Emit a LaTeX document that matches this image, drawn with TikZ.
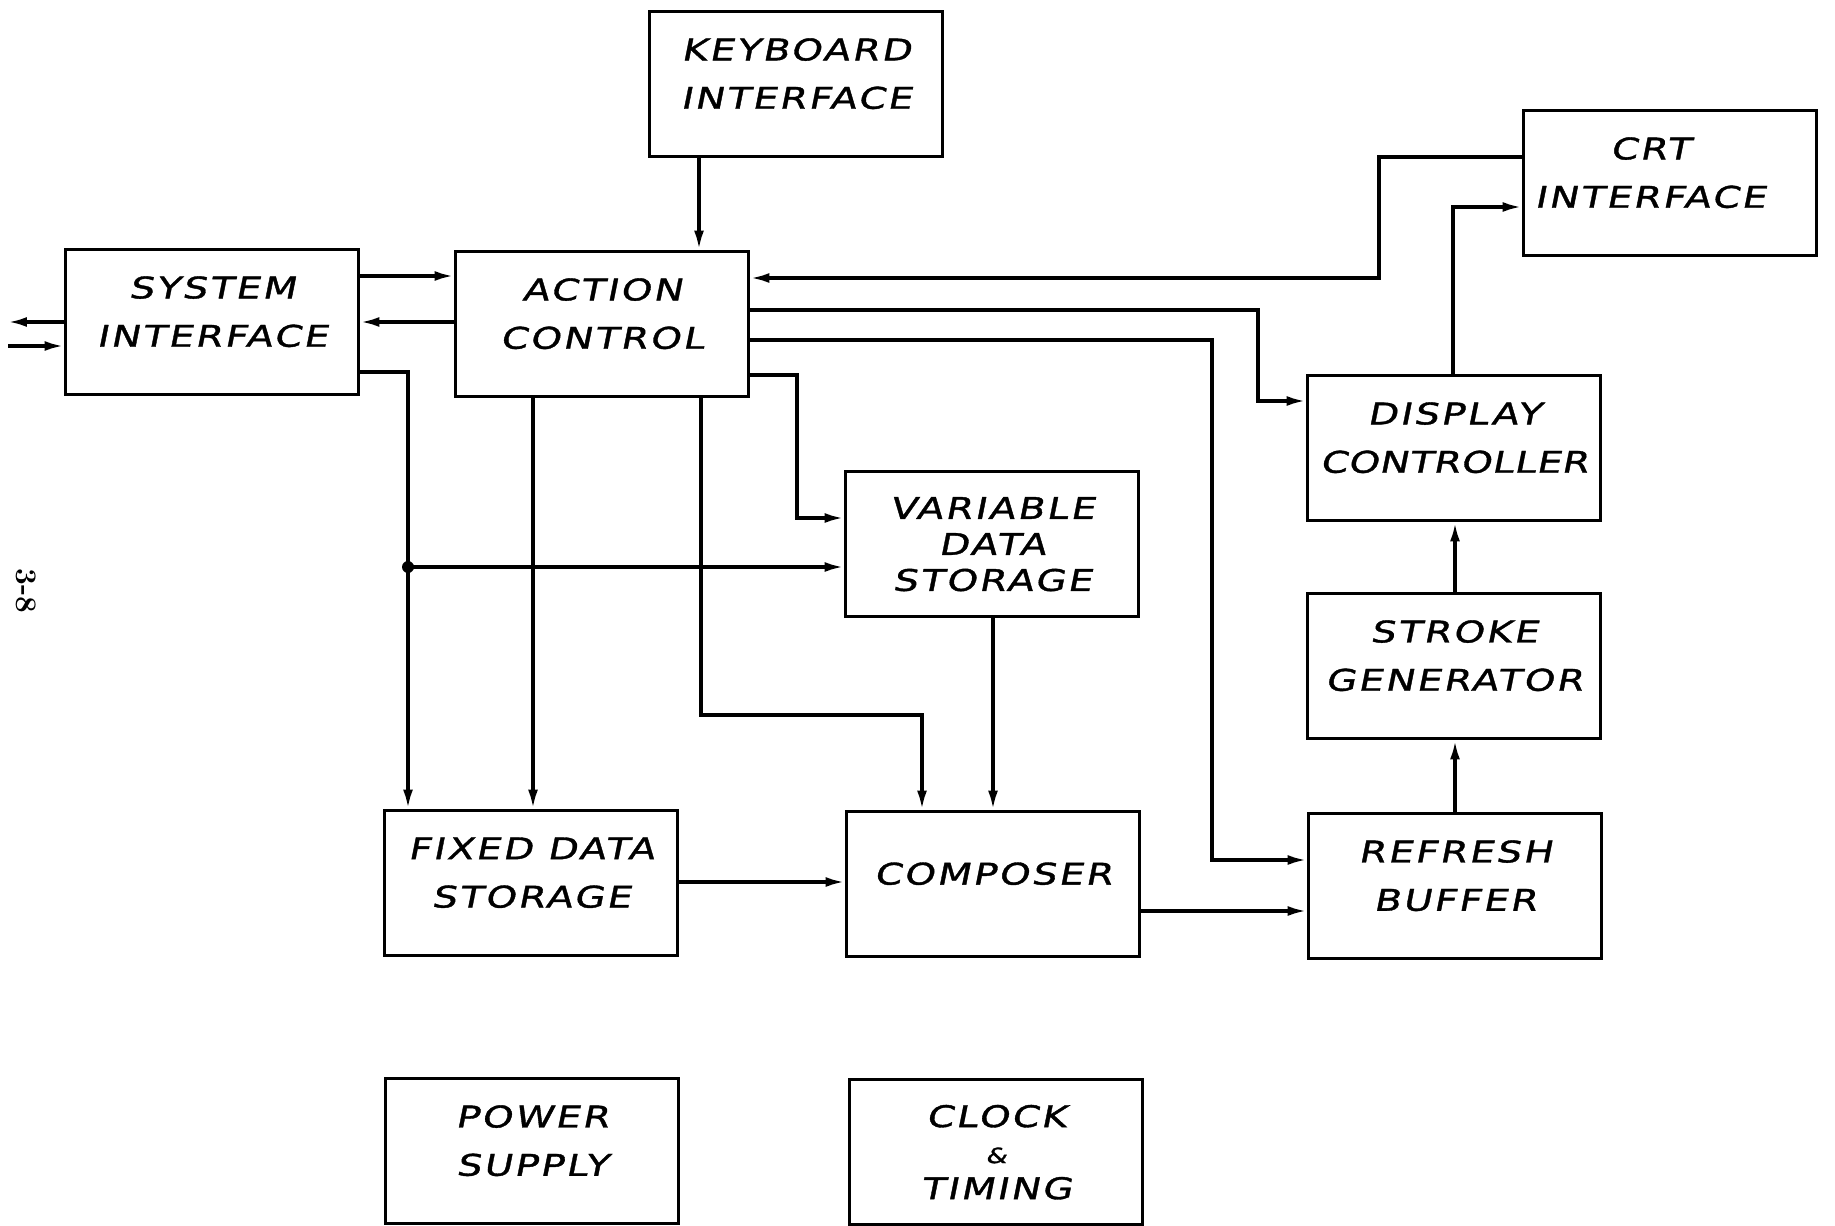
\documentclass[tikz,border=0pt]{standalone}
\usepackage{fontspec}
\usetikzlibrary{arrows.meta, positioning, calc}
\newfontfamily\handfont[FakeSlant=0.2, FakeStretch=1.3, FakeBold=1.2,
                       LetterSpace=8]{DejaVu Sans}
\tikzset{
  blk/.style  = {rectangle, draw, line width=2.2pt, minimum width=5.86cm,
                 minimum height=2.9cm, align=center, inner sep=0pt,
                 text depth=0.42cm,
                 font=\handfont\fontsize{17}{27.5}\selectfont},
  arr/.style  = {-{Latex[length=0.38cm, width=0.2cm]}, line width=1.9pt},
  dot/.style  = {fill, circle, inner sep=0pt, minimum size=0.24cm},
}

\begin{document}
\begin{tikzpicture}[x=0.02cm, y=-0.02cm]

\useasboundingbox (0,0) rectangle (1835,1226);

% ============================================================
%  Blocks
% ============================================================

\node[blk] (kbdbox)  at (796,84)     {KEYBOARD\\INTERFACE};
\node[blk] (crtbox)  at (1670,183)
  {CRT\hspace*{0.8cm}\\INTERFACE\hspace*{0.8cm}};
\node[blk] (sysbox)  at (212,322)    {SYSTEM\\INTERFACE};
\node[blk] (actbox)  at (602,324)    {ACTION\\CONTROL};
\node[blk] (dispbox) at (1454,448)
  {DISPLAY\\\addfontfeatures{LetterSpace=2}CONTROLLER};
\node[blk, text depth=0pt] (varbox) at (992,544)
  {VARIABLE\\[-7pt]DATA\\[-7pt]STORAGE};
\node[blk] (strkbox) at (1454,666)   {STROKE\\GENERATOR};
\node[blk] (fixbox)  at (531,883)    {FIXED DATA\\STORAGE};
\node[blk] (compbox) at (993,884)    {COMPOSER};
\node[blk] (refbox)  at (1455,886)   {REFRESH\\BUFFER};
\node[blk] (pwrbox)  at (532,1151)   {POWER\\SUPPLY};
\node[blk, text depth=0pt] (clkbox) at (996,1152)
  {CLOCK\\[-7pt]{\fontsize{12}{12}\selectfont\&}\\[-7pt]TIMING};

% page number
\node[rotate=-90, font=\bfseries\fontsize{17}{17}\selectfont] (pgno)
  at (26,591) {3-8};

% ============================================================
%  Routing points
% ============================================================

\coordinate (kbx)   at (699,0);
\coordinate (sain)  at (0,276);
\coordinate (asout) at (0,322);
\coordinate (extout) at (8,322);
\coordinate (extin)  at (8,346);
\coordinate (crtA)  at (1379,157);
\coordinate (crtB)  at (1379,278);
\coordinate (dcA)   at (1453,207);
\coordinate (dA)    at (1258,310);
\coordinate (dB)    at (1258,401);
\coordinate (rA)    at (1212,340);
\coordinate (rB)    at (1212,860);
\coordinate (vA)    at (797,375);
\coordinate (vB)    at (797,518);
\coordinate (bA)    at (408,372);
\coordinate (bB)    at (408,567);
\coordinate (fx)    at (533,0);
\coordinate (cA)    at (701,715);
\coordinate (cB)    at (922,715);
\coordinate (vcx)   at (993,0);
\coordinate (fcy)   at (0,882);
\coordinate (cry)   at (0,911);
\coordinate (sgx)   at (1455,0);

% ============================================================
%  Connectors
% ============================================================

% keyboard / system interface -> action control
\draw[arr] (kbdbox.south -| kbx) -- (actbox.north -| kbx);
\draw[arr] (sysbox.east |- sain) -- (actbox.west |- sain);
\draw[arr] (actbox.west |- asout) -- (sysbox.east |- asout);

% outside world
\draw[arr] (sysbox.west |- extout) -- (extout);
\draw[arr] (extin) -- (sysbox.west |- extin);

% CRT <-> action control / display controller
\draw[arr] (crtbox.west |- crtA) -- (crtA) -- (crtB) -- (actbox.east |- crtB);
\draw[arr] (dispbox.north -| dcA) |- (crtbox.west |- dcA);

% action control -> display controller, refresh buffer, variable data
\draw[arr] (actbox.east |- dA) -- (dA) |- (dispbox.west |- dB);
\draw[arr] (actbox.east |- rA) -- (rA) |- (refbox.west |- rB);
\draw[arr] (actbox.east |- vA) -- (vA) |- (varbox.west |- vB);

% system interface bus
\draw[arr] (sysbox.east |- bA) -- (bA) -- (fixbox.north -| bA);
\draw[arr] (bB) -- (varbox.west |- bB);
\node[dot] (busdot) at (bB) {};

% action control -> fixed data, composer
\draw[arr] (actbox.south -| fx) -- (fixbox.north -| fx);
\draw[arr] (actbox.south -| cA) -- (cA) -- (cB) -- (compbox.north -| cB);

% into composer
\draw[arr] (varbox.south -| vcx) -- (compbox.north -| vcx);
\draw[arr] (fixbox.east |- fcy) -- (compbox.west |- fcy);

% composer -> refresh -> stroke -> display
\draw[arr] (compbox.east |- cry) -- (refbox.west |- cry);
\draw[arr] (refbox.north -| sgx) -- (strkbox.south -| sgx);
\draw[arr] (strkbox.north -| sgx) -- (dispbox.south -| sgx);

\end{tikzpicture}
\end{document}
